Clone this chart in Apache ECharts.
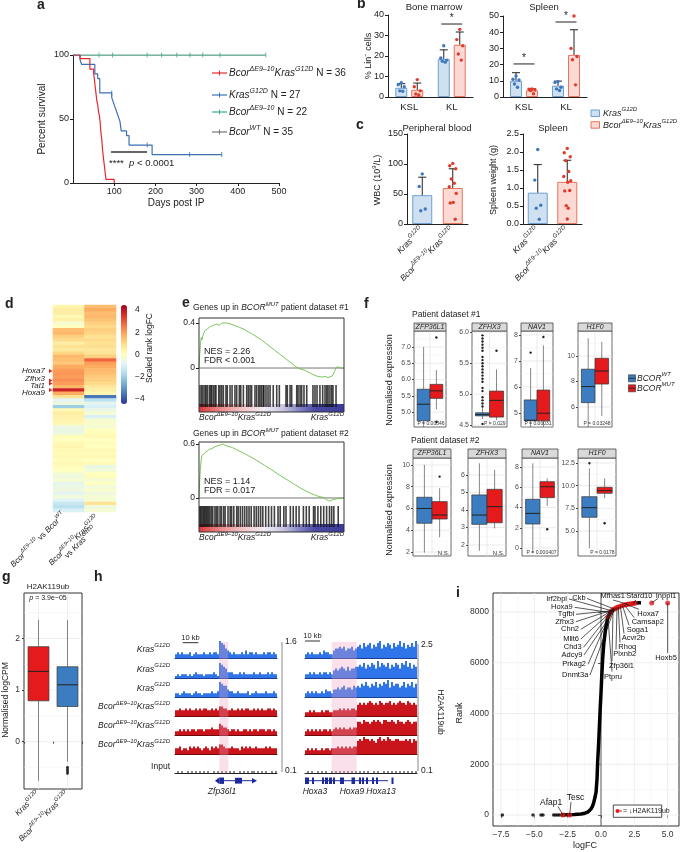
<!DOCTYPE html>
<html><head><meta charset="utf-8"><title>Figure</title>
<script src="https://cdn.jsdelivr.net/npm/echarts@6/dist/echarts.min.js"></script>
<style>html,body{margin:0;padding:0;background:#fff;}#chart{width:680px;height:852px;}</style>
</head><body><div id="chart"></div>
<script>
// ====================== DATA ======================
// a: Kaplan-Meier survival [days, % survival]
const survBcorKras = [[0,100],[17,97.2],[41,88.9],[50,86.1],[52,80.6],[54,75],[56,69.4],[58,63.9],[60,61.1],[62,55.6],[64,52.8],[66,47.2],[68,38.9],[70,33.3],[72,25],[74,19.4],[76,13.9],[78,8.3],[80,2.8],[100,0]];
const survKras = [[0,100],[17,96.3],[21,92.6],[53,85.2],[60,81.5],[65,70.4],[94,66.7],[98,63],[102,59.3],[106,55.6],[110,51.9],[114,48.1],[117,40.7],[130,37],[136,29.6],[192,22.2],[361,22.2]];
const survBcor = [[0,100],[468,100]];
const survWT = [[0,100],[468,100]];
const censorKras = [[94,70.4],[180,29.6],[283,22.2],[361,22.2]];
const censorBcor = [[63,100],[96,100],[180,100],[215,100],[252,100],[284,100],[315,100],[357,100],[468,100]];

// b: % Lin- cells
const bCats = ['KSL','KL'];
const bmMeanKras = [4.5,18.5], bmSdKras = [2.0,4.5];
const bmMeanBcor = [3.5,25.5], bmSdBcor = [3.3,6.2];
const bmDotsKras = [[7,6,5,3,2.8],[25,19,18,17.5,17]];
const bmDotsBcor = [[8.5,5,3,1.5,1],[33,28,25,21,18]];
const spMeanKras = [10,7], spSdKras = [5,2.8];
const spMeanBcor = [4,26], spSdBcor = [1,15.5];
const spDotsKras = [[13,11,10.5,8,6],[9.5,9,6,5,4]];
const spDotsBcor = [[5,4.8,4.5,4,2],[50,30,25,23,7.5]];
const bmSig = [[1,35.6]];
const spSig = [[0,20.4],[1,46.3]];

// c
const cCats = ['Kras','BcorKras'];
const wbcMean = [48,60], wbcSd = [30,32];
const wbcDots = [[83.5,62.5,25,22],[101,97,92,75,68,62,51,36,35,8]];
const spwMean = [0.87,1.17], spwSd = [0.78,0.6];
const spwDots = [[2.07,1.22,0.52,0.44,0.13],[2.1,1.98,1.87,1.76,1.46,1.32,1.2,1.16,0.92,0.93,0.51,0.44,0.14]];

// d: heatmap, scaled rank logFC (col1: BcorΔ vs BcorWT, col2: BcorΔKras vs Kras)
const heatCol1 = [0.3,0.5,0.5,0.2,0.4,-0.3,0,1.5,1.6,1.2,1.0,0.5,0.8,0.6,1.1,1.6,1.5,1.3,1.8,2.0,2.1,2.0,2.2,2.0,1.6,3.8,1.8,0.8,-0.8,-0.5,-2.0,0.2,0.5,0.4,0.3,0.2,-0.5,-0.6,-0.5,0.1,0,0.2,0.3,0.2,0.1,0.2,0.1,0.2,0.1,0,-0.3,-0.5,-0.3,-0.7,-0.6,-0.5,-0.8,-0.4,-0.9,-1.3,-1.5,-1.0];
const heatCol2 = [1.5,1.8,1.5,1.6,1.4,1.2,1.0,1.2,1.1,0.8,1.0,0.8,0.9,0.7,0.8,1.2,2.8,2.0,1.8,1.6,1.5,1.3,1.2,1.0,0.7,0.5,0.2,-3.5,-1.5,-0.8,-1.0,-0.6,-0.3,-1.0,-0.3,-0.2,-0.3,0,0.1,0.2,0,0.1,0,0.2,0.1,0.2,0,0.1,-0.6,-0.4,0,0.1,-0.3,0,-0.4,-0.2,-0.5,-0.3,-0.3,0.8,-0.5,-0.3];
const heatGenes = ['Hoxa7','Zfhx3','Tal1','Hoxa9'];

// e: GSEA running enrichment score [rank fraction, ES]
const gsea1 = [[0,0],[0.005,0.12],[0.01,0.2],[0.015,0.27],[0.02,0.25],[0.03,0.3],[0.04,0.33],[0.05,0.32],[0.06,0.35],[0.08,0.37],[0.1,0.38],[0.12,0.39],[0.14,0.38],[0.16,0.4],[0.17,0.41],[0.19,0.4],[0.22,0.39],[0.25,0.375],[0.28,0.36],[0.31,0.345],[0.34,0.32],[0.37,0.3],[0.4,0.275],[0.43,0.25],[0.46,0.22],[0.49,0.19],[0.52,0.16],[0.55,0.13],[0.58,0.1],[0.61,0.07],[0.64,0.04],[0.67,0.01],[0.7,-0.01],[0.73,-0.02],[0.76,-0.04],[0.79,-0.06],[0.82,-0.075],[0.85,-0.08],[0.87,-0.075],[0.89,-0.085],[0.9,-0.09],[0.92,-0.07],[0.935,-0.03],[0.945,0.005],[0.96,0.01],[0.98,0.0],[1,0]];
const gsea2 = [[0,0],[0.005,0.2],[0.01,0.33],[0.015,0.42],[0.02,0.47],[0.03,0.49],[0.04,0.5],[0.05,0.52],[0.07,0.54],[0.09,0.55],[0.11,0.57],[0.13,0.58],[0.15,0.59],[0.165,0.6],[0.18,0.585],[0.2,0.575],[0.23,0.56],[0.26,0.535],[0.3,0.505],[0.34,0.47],[0.38,0.435],[0.42,0.395],[0.46,0.355],[0.5,0.315],[0.54,0.27],[0.58,0.23],[0.62,0.19],[0.66,0.15],[0.7,0.11],[0.74,0.075],[0.78,0.045],[0.82,0.02],[0.86,0.005],[0.88,-0.02],[0.9,-0.035],[0.92,-0.02],[0.95,-0.01],[1,0]];
const hits1 = [0.007,0.019,0.028,0.041,0.048,0.057,0.071,0.081,0.088,0.099,0.11,0.117,0.136,0.145,0.157,0.168,0.186,0.195,0.214,0.228,0.248,0.26,0.278,0.288,0.306,0.329,0.34,0.352,0.363,0.386,0.398,0.412,0.421,0.432,0.443,0.448,0.462,0.476,0.49,0.512,0.536,0.554,0.6,0.609,0.628,0.639,0.674,0.683,0.697,0.708,0.724,0.743,0.786,0.8,0.814,0.834,0.853,0.869,0.881,0.89,0.903,0.915,0.924,0.945];
const hits2 = [0.005,0.012,0.02,0.028,0.035,0.042,0.05,0.058,0.066,0.075,0.085,0.095,0.11,0.12,0.13,0.145,0.155,0.17,0.18,0.2,0.215,0.225,0.24,0.26,0.27,0.285,0.3,0.315,0.33,0.345,0.36,0.38,0.395,0.41,0.425,0.44,0.46,0.48,0.5,0.52,0.545,0.56,0.585,0.6,0.63,0.65,0.67,0.69,0.72,0.74,0.76,0.79,0.8,0.82,0.84,0.86,0.88,0.9,0.915,0.93,0.96];

// f: boxplot stats [lower whisker, Q1, median, Q3, upper whisker]
const fGenes = ['ZFP36L1','ZFHX3','NAV1','H1F0'];
const f1WT  = [[4.3,4.73,5.24,5.7,7.0],[4.6,4.65,4.67,4.7,4.78],[4.3,4.7,4.72,5.5,6.73],[4.0,6.34,7.6,8.96,11.39]];
const f1MUT = [[5.08,5.42,5.65,5.85,6.29],[4.58,4.63,4.9,5.05,5.4],[4.3,4.7,4.99,5.88,7.6],[5.3,7.8,8.82,9.82,11.1]];
const f1OutWT  = [[],[4.8,4.85,4.9,4.95,5.05,5.1,5.2,5.25,5.3,5.35,5.4,5.45,5.5,5.55,5.6,5.7,5.75,5.8,5.85,5.9,5.95,4.52],[7.32],[]];
const f1OutMUT = [[7.29,4.7],[5.7],[7.92],[]];
const f1P = ['P = 0.00846','P = 0.029','P = 0.00031','P = 0.03248'];
const f2WT  = [[1.94,4.64,6.0,7.03,10.0],[1.67,3.18,3.71,4.86,6.67],[-0.5,2.37,3.42,4.81,8.37],[3.1,6.51,7.57,8.78,11.9]];
const f2MUT = [[3.35,5.03,5.4,6.63,7.86],[2.95,3.27,4.19,5.18,6.29],[4.15,4.97,6.05,6.55,6.88],[8.6,9.16,9.45,9.82,10.81]];
const f2OutWT  = [[],[],[],[12.47]];
const f2OutMUT = [[8.93],[],[1.85],[5.85]];
const f2P = ['N.S.','N.S.','P = 0.000407','P = 0.0178'];

// g
const gStats = [[-0.76,0.79,1.36,1.84,2.36],[-0.39,0.68,1.1,1.45,2.36]];
const gOut = [[],[-0.5,-0.53,-0.56,-0.59,-0.62]];

// h: binned H2AK119ub signal (digit = relative height 0-9)
const trkLeft = [
 '2323222312322232232332'+'98754'+'323222324233232223233232',
 '1212221212322212222321'+'87653'+'332223232222322322232322',
 '2212322212322122223223'+'87664'+'332232222312232222322232',
 '3343343433434344334343'+'55443'+'343343434433434343344343',
 '2232323233233323334333'+'65443'+'233232233232332333233232',
 '3342332434343234324343'+'55433'+'343332434343343333434333',
 '0101001010101010100101'+'01010'+'101001010101101010100101'];
const trkRight = [
 '23232223243322'+'455656455645'+'675867857689576875867968576869',
 '22323223233232'+'454565464556'+'676857687596876857687587968576',
 '23232322324332'+'445456455465'+'657686576857687958677568576857',
 '22323222323322'+'333434343443'+'676767876768767786767877687676',
 '23232323233232'+'343434334344'+'776877678787688778768776787677',
 '23232322323323'+'334343434344'+'787988787689787987788777878687',
 '01010010101001'+'010101010101'+'010101001010010101010101010101'];
const trkNames = ['Kras','Kras','Kras','BcorKras','BcorKras','BcorKras','Input'];

// i: rank vs logFC
const iCurve = [[-3.0,5],[-2.5,15],[-2.0,25],[-1.5,40],[-1.2,70],[-1.0,110],[-0.85,170],[-0.75,240],[-0.65,330],[-0.55,480],[-0.45,700],[-0.37,900],[-0.3,1400],[-0.25,2100],[-0.18,2800],[-0.12,3500],[-0.06,4200],[0,4800],[0.06,5500],[0.12,6100],[0.2,6700],[0.3,7150],[0.4,7500],[0.5,7750],[0.65,7950],[0.8,8050],[1.0,8120],[1.3,8200],[1.75,8280],[2.2,8330],[2.6,8355],[3.0,8365]];
const iBlack = [[-7.4,0],[-5.1,0],[-4.5,0],[-4.35,0],[-3.55,0],[-3.4,0],[-3.25,0],[-3.1,0]];
const iRed = [[-2.85,0],[-2.35,0],[0.52,7800],[0.7,7980],[0.8,8050],[0.9,8090],[1.0,8120],[1.1,8150],[1.2,8180],[1.3,8200],[1.45,8230],[1.6,8260],[1.75,8280],[1.9,8300],[2.0,8310],[2.1,8320],[2.25,8330],[2.4,8340],[2.55,8350],[3.8,8360],[5.0,8360]];
const iGenes = [['Irf2bpl',0.8,8050],['Ckb',1.0,8120],['Mfhas1',2.0,8310],['Stard10',2.4,8340],['Inppl1',3.8,8360],['Hoxa9',0.7,7980],['Tgfbi',0.8,8050],['Zfhx3',0.9,8090],['Chn2',1.0,8120],['Mllt6',0.7,7980],['Chd3',0.9,8090],['Adcy9',1.1,8150],['Prkag2',0.8,8050],['Dnmt3a',1.0,8120],['Ptpru',0.52,7800],['Zfp36l1',0.9,8090],['Plxnb2',1.2,8180],['Rhoq',1.3,8200],['Acvr2b',1.45,8230],['Soga1',1.6,8260],['Camsap2',1.75,8280],['Hoxa7',1.9,8300],['Hoxb5',5.0,8360],['Afap1',-2.85,0],['Tesc',-2.35,0]];
// label layout: [labelX, labelY, align, lineStartX, lineStartY, fontSize]
const iLabelPos = {
 Irf2bpl:[567,599,'right',569,599,7.5], Ckb:[579,597.5,'center',587,598.5,7.5], Mfhas1:[612.7,596,'center',613,600,7.5], Stard10:[639.3,596,'center',636,600,7.5], Inppl1:[666,596,'center',658,598.5,7.5],
 Hoxa9:[572.7,607.3,'right',574.5,607.3,7.5], Tgfbi:[574.3,614.3,'right',576,614.3,7.5], Zfhx3:[574,621.7,'right',575.8,621.7,7.5], Chn2:[579,629.3,'right',580.8,629.3,7.5], Mllt6:[579,639,'right',580.8,639,7.5], Chd3:[581.7,647.3,'right',583.5,647.3,7.5], Adcy9:[582.3,655,'right',584,655,7.5], Prkag2:[586,664.3,'right',588,664.3,7.5], Dnmt3a:[588.3,675,'right',590,675,7.5],
 Ptpru:[604,676.7,'left',612,671.5,7.5], Zfp36l1:[609,666,'left',612,661,7.5], Plxnb2:[613.3,654.3,'left',616,649.5,7.5], Rhoq:[618.3,647.3,'left',620,642.5,7.5], Acvr2b:[621.7,638.3,'left',624,633.5,7.5], Soga1:[626.7,630,'left',629,625.2,7.5], Camsap2:[631.7,622.3,'left',634,617.5,7.5], Hoxa7:[637.3,614,'left',639,609.3,7.5],
 Hoxb5:[666,658.3,'center',667.7,653,7.5], Afap1:[540,802.3,'left',558,806.5,8.5], Tesc:[566.7,797.3,'left',571,802,8.5]};

// ====================== BUILD ======================
const FF = "'Liberation Sans', Arial, Helvetica, sans-serif";
function M(){ const out={}; for(const o of arguments){ if(!o) continue; for(const k in o){ const v=o[k];
  if(v && typeof v==='object' && !Array.isArray(v) && out[k] && typeof out[k]==='object' && !Array.isArray(out[k])) out[k]=M(out[k],v); else out[k]=v; } } return out; }
function R(sz,col){ col=col||'#222'; const sp=Math.max(4.5,Math.round(sz*0.68*2)/2);
 return { n:{fontSize:sz,fontFamily:FF,color:col,fill:col,lineHeight:sz+5},
  i:{fontSize:sz,fontFamily:FF,fontStyle:'italic',color:col,fill:col,lineHeight:sz+5},
  u:{fontSize:sp,fontFamily:FF,fontStyle:'italic',color:col,fill:col,verticalAlign:'top',lineHeight:sp+1},
  s:{fontSize:sp,fontFamily:FF,color:col,fill:col,verticalAlign:'top',lineHeight:sp+1} }; }
const BK = '{i|Bcor}{u|ΔE9–10}{i|Kras}{u|G12D}';
const KR = '{i|Kras}{u|G12D}';
const G = [], grids = [], xA = [], yA = [], S = [];
function grid(box,xa,ya){ grids.push(M({show:false,containLabel:false,outerBoundsMode:'none'},box)); const i=grids.length-1;
 xA.push(M({gridIndex:i},xa)); yA.push(M({gridIndex:i},ya)); return i; }
function T(x,y,text,o){ o=o||{}; const sz=o.size||9; const col=o.color||'#222';
 G.push({type:'text',x:x,y:y,rotation:o.rot||0,z:100,silent:true,
  style:{text:text,rich:R(sz,col),font:(o.italic?'italic ':'')+(o.bold?'bold ':'')+sz+'px '+FF,fill:col,
   align:o.align||'left',verticalAlign:o.va||'middle',textAlign:o.align||'left',textVerticalAlign:o.va||'middle'}}); }
function L(x1,y1,x2,y2,c,w,z){ G.push({type:'line',z:z||60,silent:true,shape:{x1,y1,x2,y2},style:{stroke:c,lineWidth:w||1}}); }
function RC(x,y,w,h,fill,stroke,lw,z){ G.push({type:'rect',z:z||60,silent:true,shape:{x,y,width:w,height:h},style:{fill:fill||'none',stroke:stroke||'none',lineWidth:lw||1}}); }
function PG(pts,fill,z){ G.push({type:'polygon',z:z||60,silent:true,shape:{points:pts},style:{fill}}); }
const AXB = {axisLine:{show:true,lineStyle:{color:'#222',width:1}},axisTick:{show:true,length:3,lineStyle:{color:'#222',width:1}},
 axisLabel:{show:true,fontSize:9,color:'#222',fontFamily:FF,margin:4},splitLine:{show:false},splitArea:{show:false}};
const HIDV = {type:'value',show:false,splitLine:{show:false}};
const minus = v => String(v).replace('-','−');

// custom helpers
function errSeries(gi,means,sds,off){ return {type:'custom',xAxisIndex:gi,yAxisIndex:gi,z:5,silent:true,
 data:means.map((m,i)=>[i,m,sds[i]]),
 renderItem:(p,api)=>{ const b=api.coord([api.value(0),api.value(1)]); const t=api.coord([api.value(0),api.value(1)+api.value(2)]); const x=b[0]+off;
  return {type:'group',children:[{type:'line',shape:{x1:x,y1:b[1],x2:x,y2:t[1]},style:{stroke:'#222',lineWidth:1}},
   {type:'line',shape:{x1:x-4,y1:t[1],x2:x+4,y2:t[1]},style:{stroke:'#222',lineWidth:1}}]}; }}; }
const JIT=[0,-3,3,-1.5,1.5,-3.5,3.5,0.5,-2.5,2.5,-1,1,0];
function dotSeries(gi,groups,off,color){ const data=[]; groups.forEach((g,ci)=>g.forEach((v,k)=>data.push([ci,v,k])));
 return {type:'custom',xAxisIndex:gi,yAxisIndex:gi,z:6,silent:true,data,
 renderItem:(p,api)=>{ const c=api.coord([api.value(0),api.value(1)]);
  return {type:'circle',shape:{cx:c[0]+off+JIT[api.value(2)%JIT.length],cy:c[1],r:1.7},style:{fill:color}}; }}; }
function sigSeries(gi,data,half){ return {type:'custom',xAxisIndex:gi,yAxisIndex:gi,z:6,silent:true,data,
 renderItem:(p,api)=>{ const c=api.coord([api.value(0),api.value(1)]);
  return {type:'group',children:[{type:'line',shape:{x1:c[0]-half,y1:c[1],x2:c[0]+half,y2:c[1]},style:{stroke:'#222',lineWidth:1}},
   {type:'text',x:c[0],y:c[1]-1,style:{text:'*',font:'10px '+FF,fill:'#222',align:'center',verticalAlign:'bottom'}}]}; }}; }
function gridLines(gi,hVals,vVals,color,w,centerV){ const data=[]; hVals.forEach(v=>data.push([0,v,0])); vVals.forEach(v=>data.push([v,0,1])); if(centerV) data.push([0,0,2]);
 return {type:'custom',xAxisIndex:gi,yAxisIndex:gi,z:1,silent:true,data,
 renderItem:(p,api)=>{ const cs=p.coordSys; const k=api.value(2); let sh;
  if(k===0){ const y=api.coord([api.value(0),api.value(1)])[1]; sh={x1:cs.x,y1:y,x2:cs.x+cs.width,y2:y}; }
  else if(k===1){ const x=api.coord([api.value(0),api.value(1)])[0]; sh={x1:x,y1:cs.y,x2:x,y2:cs.y+cs.height}; }
  else { const x=cs.x+cs.width/2; sh={x1:x,y1:cs.y,x2:x,y2:cs.y+cs.height}; }
  return {type:'line',shape:sh,style:{stroke:color,lineWidth:w}}; }}; }
function boxSeries(gi,stats,colors,ratio,shift){ return {type:'custom',xAxisIndex:gi,yAxisIndex:gi,z:3,silent:true,
 data:stats.map((s,i)=>[i].concat(s)),
 renderItem:(p,api)=>{ const i=api.value(0); const cs=p.coordSys; const band=api.size([1,0])[0];
  const cx=api.coord([i,0])[0]+(i===0?shift:-shift)*band; const w=ratio*band;
  const Y=k=>Math.max(cs.y,Math.min(cs.y+cs.height,api.coord([i,api.value(k)])[1]));
  const lo=Y(1),q1=Y(2),md=Y(3),q3=Y(4),hi=Y(5);
  return {type:'group',children:[
   {type:'line',shape:{x1:cx,y1:hi,x2:cx,y2:q3},style:{stroke:'#555',lineWidth:0.7}},
   {type:'line',shape:{x1:cx,y1:q1,x2:cx,y2:lo},style:{stroke:'#555',lineWidth:0.7}},
   {type:'rect',shape:{x:cx-w/2,y:q3,width:w,height:q1-q3},style:{fill:colors[i],stroke:'#333',lineWidth:0.7}},
   {type:'line',shape:{x1:cx-w/2,y1:md,x2:cx+w/2,y2:md},style:{stroke:'#222',lineWidth:1}}]}; }}; }
function outSeries(gi,outs,shift,r){ const data=[]; outs.forEach((g,ci)=>g.forEach(v=>data.push([ci,v])));
 return {type:'custom',xAxisIndex:gi,yAxisIndex:gi,z:4,silent:true,data,
 renderItem:(p,api)=>{ const i=api.value(0); const band=api.size([1,0])[0]; const c=api.coord([i,api.value(1)]);
  return {type:'circle',shape:{cx:c[0]+(i===0?shift:-shift)*band,cy:c[1],r:r||1.2},style:{fill:'#222'}}; }}; }

// ---------- Panel letters ----------
[['a',37,12],['b',357,11],['c',356,132],['d',5,311],['e',182,310],['f',364,311],['g',2,584],['h',94,584],['i',456,600]]
 .forEach(a=>T(a[1],a[2],a[0],{size:14,bold:true,va:'bottom'}));

// ---------- Panel a ----------
const gA = grid({left:73,top:55,width:206,height:128},
 M(AXB,{type:'value',min:0,max:500,interval:100,axisLabel:{showMinLabel:false}}), M(AXB,{type:'value',min:0,max:100,interval:50}));
function km(gi,data,color){ return {type:'line',xAxisIndex:gi,yAxisIndex:gi,data,step:'end',showSymbol:false,symbol:'none',lineStyle:{color,width:1.2},itemStyle:{color},z:3,silent:true}; }
function cens(gi,data,color){ return {type:'scatter',xAxisIndex:gi,yAxisIndex:gi,data,symbol:'rect',symbolSize:[1,5],itemStyle:{color},z:6,silent:true}; }
const cRed='#e8262b', cBlue='#3b6fb6', cGreen='#3aae8e', cGray='#777777';
S.push(km(gA,survWT,cGray), km(gA,survBcor,cGreen), km(gA,survKras,cBlue), km(gA,survBcorKras,cRed),
 cens(gA,censorBcor,cGreen), cens(gA,censorKras,cBlue));
T(42,119,'{n|Percent survival}',{size:10,rot:Math.PI/2,align:'center'});
T(176,203,'{n|Days post IP}',{size:10,align:'center'});
[[73,cRed,BK+'{n| N = 36}'],[95,cBlue,KR+'{n| N = 27}'],[112,cGreen,'{i|Bcor}{u|ΔE9–10}{n| N = 22}'],[132,cGray,'{i|Bcor}{u|WT}{n| N = 35}']]
 .forEach(l=>{ L(212,l[0],227,l[0],l[1],1.2); L(219.5,l[0]-2.5,219.5,l[0]+2.5,l[1],1); T(229,l[0],l[2],{size:10}); });
L(111,152,147,152,'#666',1.8);
T(109,163,'{n|****  }{i|p}{n| < 0.0001}',{size:9.5});

// ---------- Panel b ----------
const catAx = (cats)=>M(AXB,{type:'category',data:cats,axisTick:{show:false},axisLabel:{fontSize:9.5,margin:5}});
const bBlueF='#cfe0f1', bBlueS='#6f9fd1', bBlueD='#3b78c0', bRedF='#fcd9d2', bRedS='#e8735f', bRedD='#e03a2a';
function barS(gi,data,fill,stroke,w,gap){ return {type:'bar',xAxisIndex:gi,yAxisIndex:gi,data,barWidth:w,barGap:gap,itemStyle:{color:fill,borderColor:stroke,borderWidth:1},z:2,silent:true}; }
const gBM = grid({left:388,top:15,width:85,height:82}, catAx(bCats), M(AXB,{type:'value',min:0,max:40,interval:10}));
const gBS = grid({left:503,top:16,width:84,height:81}, catAx(bCats), M(AXB,{type:'value',min:0,max:50,interval:10}));
[[gBM,bmMeanKras,bmSdKras,bmDotsKras,bmMeanBcor,bmSdBcor,bmDotsBcor,bmSig],[gBS,spMeanKras,spSdKras,spDotsKras,spMeanBcor,spSdBcor,spDotsBcor,spSig]].forEach(q=>{
 S.push(barS(q[0],q[1],bBlueF,bBlueS,12,'33%'), barS(q[0],q[4],bRedF,bRedS,12,'33%'),
  errSeries(q[0],q[1],q[2],-8), errSeries(q[0],q[4],q[5],8), dotSeries(q[0],q[3],-8,bBlueD), dotSeries(q[0],q[6],8,bRedD), sigSeries(q[0],q[7],10.5)); });
T(434,7,'{n|Bone marrow}',{size:9.5,align:'center'});
T(544,7,'{n|Spleen}',{size:9.5,align:'center'});
T(369,56,'{n|% Lin}{s|−}{n| cells}',{size:9,rot:Math.PI/2,align:'center'});
RC(591,110,8.5,6.5,bBlueF,bBlueS,1); T(603,113.3,KR,{size:9});
RC(591,121.7,8.5,6.5,bRedF,bRedS,1); T(603,125,BK,{size:9});

// ---------- Panel c ----------
const cXAx = M(AXB,{type:'category',data:cCats,axisTick:{show:false},axisLabel:{rotate:45,fontSize:8.5,margin:5,rich:R(8.5),formatter:v=>v==='Kras'?KR:BK}});
const gC1 = grid({left:407,top:134,width:61,height:90}, cXAx, M(AXB,{type:'value',min:0,max:150,interval:50}));
const gC2 = grid({left:523,top:134,width:59,height:90}, cXAx, M(AXB,{type:'value',min:0,max:2.5,interval:0.5,axisLabel:{formatter:v=>v.toFixed(1)}}));
[[gC1,wbcMean,wbcSd,wbcDots],[gC2,spwMean,spwSd,spwDots]].forEach(q=>{
 S.push({type:'bar',xAxisIndex:q[0],yAxisIndex:q[0],barWidth:20,z:2,silent:true,
  data:q[1].map((v,i)=>({value:v,itemStyle:{color:i?bRedF:bBlueF,borderColor:i?bRedS:bBlueS,borderWidth:1}}))},
  errSeries(q[0],q[1],q[2],0), dotSeries(q[0],[q[3][0],[]],0,bBlueD), dotSeries(q[0],[[],q[3][1]],0,bRedD)); });
T(437,128,'{n|Peripheral blood}',{size:9.5,align:'center'});
T(553,128,'{n|Spleen}',{size:9.5,align:'center'});
T(378,180,'{n|WBC (10}{s|9}{n|/L)}',{size:9,rot:Math.PI/2,align:'center'});
T(494,180,'{n|Spleen weight (g)}',{size:9,rot:Math.PI/2,align:'center'});

// ---------- Panel d ----------
const gD = grid({left:53,top:305,width:63,height:207},
 {type:'category',show:false,data:['c1','c2']},
 {type:'category',show:false,inverse:true,data:heatCol1.map((v,i)=>String(i))});
const heatData=[]; heatCol1.forEach((v,i)=>heatData.push([0,i,v])); heatCol2.forEach((v,i)=>heatData.push([1,i,v]));
S.push({type:'heatmap',xAxisIndex:gD,yAxisIndex:gD,data:heatData,silent:true,itemStyle:{borderWidth:0}});
const heatSeriesIndex = S.length-1;
const gDC = grid({left:121,top:310,width:6,height:89}, {type:'value',show:false,min:0,max:1},
 {type:'value',min:-4,max:4,position:'right',axisLine:{show:false},axisTick:{show:false},splitLine:{show:false},
  axisLabel:{show:true,fontSize:8.5,color:'#222',fontFamily:FF,margin:8,customValues:[-4,-2,0,2,4],formatter:minus}});
T(150,348,'{n|Scaled rank logFC}',{size:8.5,rot:Math.PI/2,align:'center'});
[[371,'Hoxa7'],[378.5,'Zfhx3'],[386,'Tal1'],[393,'Hoxa9']].forEach(g=>T(45,g[0],'{i|'+g[1]+'}',{size:8,align:'right'}));
[371,380.5,383.5,390].forEach(y=>PG([[49,y-2],[52.5,y],[49,y+2]],'#e0201b'));
T(64,514,'{i|Bcor}{u|ΔE9–10}{n| vs }{i|Bcor}{u|WT}',{size:8,rot:Math.PI/4,align:'right'});
T(97.5,517,BK,{size:8,rot:Math.PI/4,align:'right'});
T(95,528,'{n|vs }'+KR,{size:8,rot:Math.PI/4,align:'right'});

// ---------- Panel e ----------
function gseaPanel(top,h,y0,y1,lab,curve,hits,hitTop,hitH,nes,fdr,title,titleY,nesY){
 const gc = grid({left:199,top:top,width:145,height:h}, M(HIDV,{min:0,max:1}),
  {type:'value',min:y0,max:y1,axisLine:{show:false},splitLine:{show:false},
   axisTick:{show:true,length:3,lineStyle:{color:'#222'},customValues:[0,lab]},
   axisLabel:{show:true,fontSize:8.5,color:'#222',fontFamily:FF,margin:4,customValues:[0,lab],formatter:v=>v===0?'0':String(v)}});
 S.push(gridLines(gc,[0],[],'#666',0.9),
  {type:'line',xAxisIndex:gc,yAxisIndex:gc,data:curve,showSymbol:false,symbol:'none',lineStyle:{color:'#6cc04a',width:0.9},z:3,silent:true});
 const gh = grid({left:199,top:hitTop,width:145,height:hitH}, M(HIDV,{min:0,max:1}), M(HIDV,{min:0,max:1}));
 S.push({type:'scatter',xAxisIndex:gh,yAxisIndex:gh,data:hits.map(x=>[x,0.5]),symbol:'rect',symbolSize:[1.6,hitH],itemStyle:{color:'#111'},z:4,silent:true});
 const bandY = hitTop+hitH;
 G.push({type:'rect',z:3,silent:true,shape:{x:199,y:bandY-3,width:145,height:8},style:{fill:{type:'linear',x:0,y:0,x2:1,y2:0,colorStops:[
  {offset:0,color:'#d9383a'},{offset:0.15,color:'#e98b8e'},{offset:0.3,color:'#f3c4c6'},{offset:0.45,color:'#f1eef4'},{offset:0.58,color:'#c7c6e2'},{offset:0.7,color:'#7f7fc2'},{offset:0.8,color:'#4b4ba6'},{offset:1,color:'#3a3a9a'}]}}});
 RC(199,top,145,bandY+5-top,'none','#333',1,70);
 T(193,titleY,'{n|Genes up in }{i|BCOR}{u|MUT}{n| patient dataset '+title+'}',{size:8.5});
 T(204,nesY,'{n|'+nes+'}',{size:9}); T(204,nesY+9,'{n|'+fdr+'}',{size:9});
 T(199,bandY+11,BK,{size:8.5}); T(344,bandY+11,KR,{size:8.5,align:'right'});
}
gseaPanel(318,65,-0.133,0.444,0.4,gsea1,hits1,385,22,'NES = 2.26','FDR < 0.001','#1',308,351.7);
gseaPanel(442,62,-0.067,0.622,0.6,gsea2,hits2,506,21,'NES = 1.14','FDR = 0.017','#2',434,481.7);

// ---------- Panel f ----------
const fBlue='#3b7dc0', fRed='#e41a1c';
const fSets = [
 {top:331,h:96,hdr:8,title:'Patient dataset #1',titleY:315,ylab:380,wt:f1WT,mut:f1MUT,ow:f1OutWT,om:f1OutMUT,p:f1P,
  panels:[{left:414,w:32,min:4.54,max:7.49,ticks:[5.0,5.5,6.0,6.5,7.0],dec:1},{left:472,w:35,min:4.47,max:6.02,ticks:[4.5,5.0,5.5,6.0],dec:1},
          {left:521,w:32,min:4.46,max:8.15,ticks:[5,6,7,8],dec:0},{left:578,w:34,min:4.43,max:11.96,ticks:[6,8,10],dec:0}]},
 {top:458,h:98,hdr:9,title:'Patient dataset #2',titleY:441,ylab:510,wt:f2WT,mut:f2MUT,ow:f2OutWT,om:f2OutMUT,p:f2P,
  panels:[{left:413,w:38,min:1.63,max:10.64,ticks:[2,4,6,8,10],dec:0},{left:468,w:38,min:1.37,max:6.97,ticks:[2,3,4,5,6],dec:0},
          {left:522,w:36,min:-0.79,max:8.89,ticks:[0,2,4,6,8],dec:0},{left:578,w:38,min:2.24,max:13.05,ticks:[5.0,7.5,10.0,12.5],dec:1}]}];
fSets.forEach(fs=>{
 fs.panels.forEach((pn,k)=>{
  const step = pn.ticks[1]-pn.ticks[0];
  const minors=[]; for(let v=pn.ticks[0]-step/2; v<pn.max; v+=step) if(v>pn.min) minors.push(v);
  const gi = grid({left:pn.left,top:fs.top,width:pn.w,height:fs.h,show:true,borderColor:'#444',borderWidth:0.8,backgroundColor:'#fff'},
   {type:'category',show:false,data:['WT','MUT']},
   {type:'value',min:pn.min,max:pn.max,axisLine:{show:false},splitLine:{show:false},
    axisTick:{show:true,length:2,lineStyle:{color:'#444'},customValues:pn.ticks},
    axisLabel:{show:true,fontSize:7,color:'#4d4d4d',fontFamily:FF,margin:3,customValues:pn.ticks,formatter:v=>v.toFixed(pn.dec)}});
  S.push(gridLines(gi,minors,[],'#f2f2f2',0.5), gridLines(gi,pn.ticks,[],'#e3e3e3',0.7,true),
   boxSeries(gi,[fs.wt[k],fs.mut[k]],[fBlue,fRed],0.8,0.1), outSeries(gi,[fs.ow[k],fs.om[k]],0.1,1.2));
  RC(pn.left,fs.top-fs.hdr,pn.w,fs.hdr,'#d9d9d9','#444',0.8,70);
  T(pn.left+pn.w/2,fs.top-fs.hdr/2,'{i|'+fGenes[k]+'}',{size:7,align:'center'});
  T(pn.left+pn.w-1.5,fs.top+fs.h-3,'{n|'+fs.p[k]+'}',{size:fs.p[k]==='N.S.'?6:5,align:'right',color:'#333'});
 });
 T(fs.panels[0].left-2,fs.titleY,'{n|'+fs.title+'}',{size:8.5});
 T(390,fs.ylab,'{n|Normalised expression}',{size:9,rot:Math.PI/2,align:'center'});
});
[[378.3,fBlue,'{i|BCOR}{u|WT}'],[388.3,fRed,'{i|BCOR}{u|MUT}']].forEach(l=>{ RC(628.5,l[0]-3.5,7,7,l[1],'#333',0.6); L(628.5,l[0],635.5,l[0],'#222',0.8); T(637,l[0],l[2],{size:8.5}); });

// ---------- Panel g ----------
const gG = grid({left:24,top:593,width:58,height:196,show:true,borderColor:'#333',borderWidth:1},
 M(AXB,{type:'category',data:['Kras','BcorKras'],axisLine:{show:false},axisTick:{show:true,length:2,lineStyle:{color:'#333'}},
  axisLabel:{rotate:45,fontSize:8,margin:4,rich:R(8),formatter:v=>v==='Kras'?KR:BK}}),
 {type:'value',min:-0.92,max:2.88,axisLine:{show:false},splitLine:{show:false},
  axisTick:{show:true,length:2,lineStyle:{color:'#333'},customValues:[0,1,2]},
  axisLabel:{show:true,fontSize:8.5,color:'#333',fontFamily:FF,margin:4,customValues:[0,1,2]}});
S.push(gridLines(gG,[-0.5,0.5,1.5,2.5],[],'#f2f2f2',0.5), gridLines(gG,[0,1,2],[0,1],'#e6e6e6',0.7),
 boxSeries(gG,gStats,['#e41a1c','#3b7dc0'],0.72,0), outSeries(gG,gOut,0,1.3));
T(48,587,'{n|H2AK119ub}',{size:8,align:'center'});
T(48,598,'{i|p}{n| = 3.9e−05}',{size:7,align:'center'});
T(6,700,'{n|Normalised logCPM}',{size:8.5,rot:Math.PI/2,align:'center'});

// ---------- Panel h ----------
const trkBase = [658,678,697,716,735,754,773];
const trkFill = ['#2f74e8','#2f74e8','#2f74e8','#c8141a','#c8141a','#c8141a','#888888'];
const trkLine = ['#1a3f8f','#1a3f8f','#1a3f8f','#6e0a0a','#6e0a0a','#6e0a0a','#222222'];
[[175,102,trkLeft],[305,112,trkRight]].forEach(loc=>{
 loc[2].forEach((str,t)=>{
  const vals = str.split('').map(Number);
  const gi = grid({left:loc[0],top:trkBase[t]-17,width:loc[1],height:17},
   {type:'category',data:vals.map((v,i)=>i),axisLine:{show:true,lineStyle:{color:trkLine[t],width:1}},axisTick:{show:false},axisLabel:{show:false},splitLine:{show:false}},
   M(HIDV,{min:0,max:9}));
  S.push({type:'bar',xAxisIndex:gi,yAxisIndex:gi,data:vals,barCategoryGap:'0%',itemStyle:{color:trkFill[t]},z:2,silent:true});
 });
});
RC(219.3,642,9,131,'rgba(238,160,190,0.33)','none',0,20);
RC(331.7,642,25,131,'rgba(238,160,190,0.33)','none',0,20);
[649.3,669.3,688.3,706.7,725.7,745].forEach((y,t)=>T(170,y,trkNames[t]==='Kras'?KR:BK,{size:8.5,align:'right'}));
T(170,766.7,'{n|Input}',{size:8.5,align:'right'});
L(282,642,282,772,'#888',1); T(285,642,'{n|1.6}',{size:8.5}); T(285,771,'{n|0.1}',{size:8.5});
L(418,644,418,771,'#888',1); T(421,644.3,'{n|2.5}',{size:8.5}); T(421,770.7,'{n|0.1}',{size:8.5});
T(440,712,'{n|H2AK119ub}',{size:8.5,rot:-Math.PI/2,align:'center'});
L(182.7,642.7,198.3,642.7,'#333',1); T(190.5,637.5,'{n|10 kb}',{size:7.5,align:'center'});
L(305,641,320,641,'#333',1); T(312.5,636,'{n|10 kb}',{size:7.5,align:'center'});
const navy='#1c2a9c';
L(217,780.7,253,780.7,navy,1); PG([[215,780.7],[219.5,777.2],[219.5,784.2]],navy); RC(219.5,777.5,4.5,6.4,navy);
RC(235,777.8,7,5.8,navy); PG([[252,778],[257,780.7],[252,783.4]],navy);
L(305,780.7,388,780.7,navy,1);
[[305,4],[312,2],[322,2],[325,3],[329,3],[333,2],[340,4],[351.5,3.5],[359,2],[362,2],[366,2],[372,2],[376,2],[391.5,2]].forEach(e=>RC(e[0],777.5,e[1],6.5,navy));
T(222,792,'{i|Zfp36l1}',{size:8.5,align:'center'});
T(315,792,'{i|Hoxa3}',{size:8.5,align:'center'}); T(352,792,'{i|Hoxa9}',{size:8.5,align:'center'}); T(381,792,'{i|Hoxa13}',{size:8.5,align:'center'});

// ---------- Panel i ----------
const gI = grid({left:493,top:593,width:186,height:233,show:true,borderColor:'#333',borderWidth:1},
 {type:'value',min:-8.1,max:5.85,axisLine:{show:false},splitLine:{show:false},
  axisTick:{show:true,length:3,lineStyle:{color:'#333'},customValues:[-7.5,-5,-2.5,0,2.5,5]},
  axisLabel:{show:true,fontSize:8.5,color:'#333',fontFamily:FF,margin:4,customValues:[-7.5,-5,-2.5,0,2.5,5],formatter:v=>minus(v.toFixed(1))}},
 {type:'value',min:-433,max:8750,axisLine:{show:false},splitLine:{show:false},
  axisTick:{show:true,length:3,lineStyle:{color:'#333'},customValues:[0,2000,4000,6000,8000]},
  axisLabel:{show:true,fontSize:8.5,color:'#333',fontFamily:FF,margin:4,customValues:[0,2000,4000,6000,8000],formatter:v=>String(Math.round(v))}});
S.push(gridLines(gI,[1000,3000,5000,7000],[-6.25,-3.75,-1.25,1.25,3.75],'#f3f3f3',0.5),
 gridLines(gI,[0,2000,4000,6000,8000],[-7.5,-5,-2.5,2.5,5],'#e6e6e6',0.7),
 gridLines(gI,[],[0],'#555',1),
 {type:'line',xAxisIndex:gI,yAxisIndex:gI,data:iCurve,showSymbol:false,symbol:'none',lineStyle:{color:'#000',width:3.5},z:4,silent:true},
 {type:'scatter',xAxisIndex:gI,yAxisIndex:gI,data:iBlack,symbolSize:3.5,itemStyle:{color:'#000'},z:5,silent:true},
 {type:'scatter',xAxisIndex:gI,yAxisIndex:gI,data:iRed,symbolSize:5,itemStyle:{color:'#e41a1c'},z:6,silent:true},
 {type:'custom',xAxisIndex:gI,yAxisIndex:gI,z:8,silent:true,data:iGenes.map(g=>[g[1],g[2]]),
  renderItem:(p,api)=>{ const nm=iGenes[p.dataIndex][0]; const lp=iLabelPos[nm]; const pt=api.coord([api.value(0),api.value(1)]);
   return {type:'group',children:[{type:'line',shape:{x1:lp[3],y1:lp[4],x2:pt[0],y2:pt[1]},style:{stroke:'#111',lineWidth:0.7}},
    {type:'text',x:lp[0],y:lp[1],style:{text:nm,font:lp[5]+'px '+FF,fill:'#111',align:lp[2],verticalAlign:'middle'}}]}; }});
T(460,713,'{n|Rank}',{size:9,rot:Math.PI/2,align:'center'});
T(585,846,'{n|logFC}',{size:9,align:'center'});
RC(613.3,805,48.4,12.3,'#fff','#222',0.8,70);
G.push({type:'circle',z:80,silent:true,shape:{cx:617.5,cy:811,r:2},style:{fill:'#e41a1c'}});
L(619,811,622,811,'#e41a1c',1,80);
T(623,811.3,'{n|= ↓H2AK119ub}',{size:7});

// ---------- Render ----------
const chart = echarts.init(document.getElementById('chart'),null,{renderer:'canvas'});
chart.setOption({
 animation:false, backgroundColor:'#fff', textStyle:{fontFamily:FF},
 grid:grids, xAxis:xA, yAxis:yA, series:S, graphic:G,
 visualMap:[{type:'continuous',seriesIndex:heatSeriesIndex,dimension:2,min:-4.45,max:4.45,left:121,top:305,itemWidth:6,itemHeight:99,padding:0,
  calculable:false,orient:'vertical',inRange:{color:['#313695','#4575b4','#74add1','#abd9e9','#e0f3f8','#ffffbf','#fee090','#fdae61','#f46d43','#d73027','#a50026']}}]
});
</script></body></html>
